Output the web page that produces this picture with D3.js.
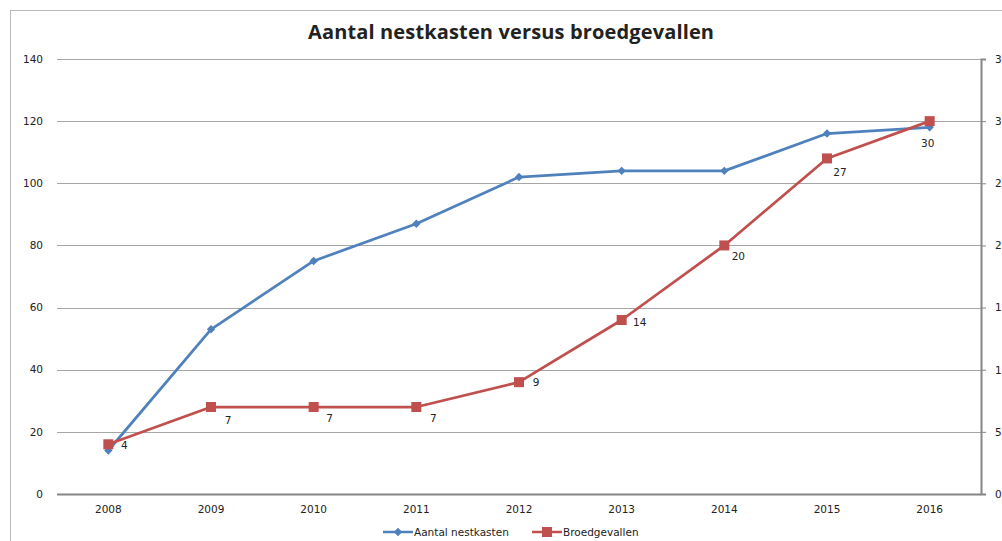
<!DOCTYPE html>
<html>
<head>
<meta charset="utf-8">
<script src="https://cdn.jsdelivr.net/npm/d3@7"></script>
<style>
    body { margin: 0; background: #fff; }
    svg text { font-family: "DejaVu Sans", Verdana, sans-serif; fill: #222; }
    .title { font-family: "Open Sans", "DejaVu Sans", sans-serif; font-weight: bold; }
</style>
</head>
<body>
<div class="chart"></div>
<script>
var years = ["2008", "2009", "2010", "2011", "2012", "2013", "2014", "2015", "2016"];
var nestkasten = [14, 53, 75, 87, 102, 104, 104, 116, 118];
var broedgevallen = [4, 7, 7, 7, 9, 14, 20, 27, 30];
var leftTicks = [0, 20, 40, 60, 80, 100, 120, 140];
var rightTicks = [0, 5, 10, 15, 20, 25, 30, 35];

// label nudges (px) as placed in the original
var labelNudge = [[16, 1], [17, 13], [16, 11], [17, 11], [17, 0], [18, 2], [14, 11], [13, 14], [-2, 22]];

var W = 1002, H = 541;
var margin = { top: 59, right: 21, bottom: 47, left: 57 };
var width = W - margin.left - margin.right;
var height = H - margin.top - margin.bottom;

var svg = d3.select(".chart").append("svg")
    .attr("width", W)
    .attr("height", H);

// chart border (right / bottom fall outside the picture)
svg.append("rect")
    .attr("x", 10.5).attr("y", 10.5)
    .attr("width", W + 20).attr("height", H + 20)
    .attr("fill", "none")
    .attr("stroke", "#b8b8b8");

svg.append("text")
    .attr("class", "title")
    .attr("x", 511).attr("y", 39)
    .attr("text-anchor", "middle")
    .style("font-size", "20px")
    .attr("textLength", 406)
    .text("Aantal nestkasten versus broedgevallen");

var g = svg.append("g")
    .attr("transform", "translate(" + margin.left + "," + margin.top + ")");

var x = d3.scaleBand().domain(years).range([0, width]);
var y = d3.scaleLinear().domain([0, 140]).range([height, 0]);
var y2 = d3.scaleLinear().domain([0, 35]).range([height, 0]);
var cx = function (d, i) { return x(years[i]) + x.bandwidth() / 2; };

// gridlines
g.selectAll(".grid").data(leftTicks.slice(1)).enter().append("line")
    .attr("x1", 0).attr("x2", width)
    .attr("y1", function (d) { return Math.round(y(d)) + 0.5; })
    .attr("y2", function (d) { return Math.round(y(d)) + 0.5; })
    .attr("stroke", "#a6a6a6");

// left labels
g.selectAll(".ly").data(leftTicks).enter().append("text")
    .attr("x", -14)
    .attr("y", function (d) { return y(d); })
    .attr("dy", "0.35em")
    .attr("text-anchor", "end")
    .style("font-size", "10.5px")
    .text(function (d) { return d; });

// x axis
g.append("line")
    .attr("x1", 0).attr("x2", width)
    .attr("y1", height + 0.5).attr("y2", height + 0.5)
    .attr("stroke", "#868686").attr("stroke-width", 2);

g.selectAll(".lx").data(years).enter().append("text")
    .attr("x", function (d) { return x(d) + x.bandwidth() / 2; })
    .attr("y", height + 15)
    .attr("dy", "0.35em")
    .attr("text-anchor", "middle")
    .style("font-size", "10.5px")
    .text(function (d) { return d; });

// right axis
var ra = g.append("g")
    .attr("transform", "translate(" + width + ",0)")
    .call(d3.axisRight(y2).tickValues(rightTicks).tickSize(5).tickPadding(9));
ra.select(".domain").attr("stroke", "#868686").attr("stroke-width", 2);
ra.selectAll(".tick line").attr("stroke", "#868686");
ra.selectAll(".tick text").style("font-size", "10.5px").attr("fill", "#222")
    .style("font-family", "DejaVu Sans, sans-serif");

// series
var blue = "#4f81bd", red = "#c0504d";

var line1 = d3.line().x(cx).y(function (d) { return y(d); });
var line2 = d3.line().x(cx).y(function (d) { return y2(d); });

g.append("path").datum(nestkasten)
    .attr("d", line1).attr("fill", "none")
    .attr("stroke", blue).attr("stroke-width", 2.75).attr("stroke-linejoin", "round");

g.append("path").datum(broedgevallen)
    .attr("d", line2).attr("fill", "none")
    .attr("stroke", red).attr("stroke-width", 2.75).attr("stroke-linejoin", "round");

var diamond = d3.symbol().type(d3.symbolDiamond2).size(45);

g.selectAll(".m1").data(nestkasten).enter().append("path")
    .attr("d", diamond)
    .attr("transform", function (d, i) { return "translate(" + cx(d, i) + "," + y(d) + ")"; })
    .attr("fill", blue);

g.selectAll(".m2").data(broedgevallen).enter().append("rect")
    .attr("x", function (d, i) { return cx(d, i) - 5; })
    .attr("y", function (d) { return y2(d) - 5; })
    .attr("width", 10).attr("height", 10)
    .attr("fill", red);

g.selectAll(".lbl").data(broedgevallen).enter().append("text")
    .attr("x", function (d, i) { return cx(d, i) + labelNudge[i][0]; })
    .attr("y", function (d, i) { return y2(d) + labelNudge[i][1]; })
    .attr("dy", "0.35em")
    .attr("text-anchor", "middle")
    .style("font-size", "10.5px")
    .text(function (d) { return d; });

// legend
var legend = svg.append("g").attr("transform", "translate(0,532)");
var items = [
    { name: "Aantal nestkasten", color: blue, x: 383, sym: "d" },
    { name: "Broedgevallen", color: red, x: 532, sym: "s" }
];
items.forEach(function (it) {
    legend.append("line")
        .attr("x1", it.x).attr("x2", it.x + 30)
        .attr("stroke", it.color).attr("stroke-width", 2.5);
    if (it.sym == "d") {
        legend.append("path").attr("d", diamond)
            .attr("transform", "translate(" + (it.x + 15) + ",0)")
            .attr("fill", it.color);
    } else {
        legend.append("rect")
            .attr("x", it.x + 10).attr("y", -5)
            .attr("width", 10).attr("height", 10)
            .attr("fill", it.color);
    }
    legend.append("text")
        .attr("x", it.x + 31).attr("dy", "0.35em")
        .style("font-size", "10.5px")
        .text(it.name);
});
</script>
</body>
</html>
